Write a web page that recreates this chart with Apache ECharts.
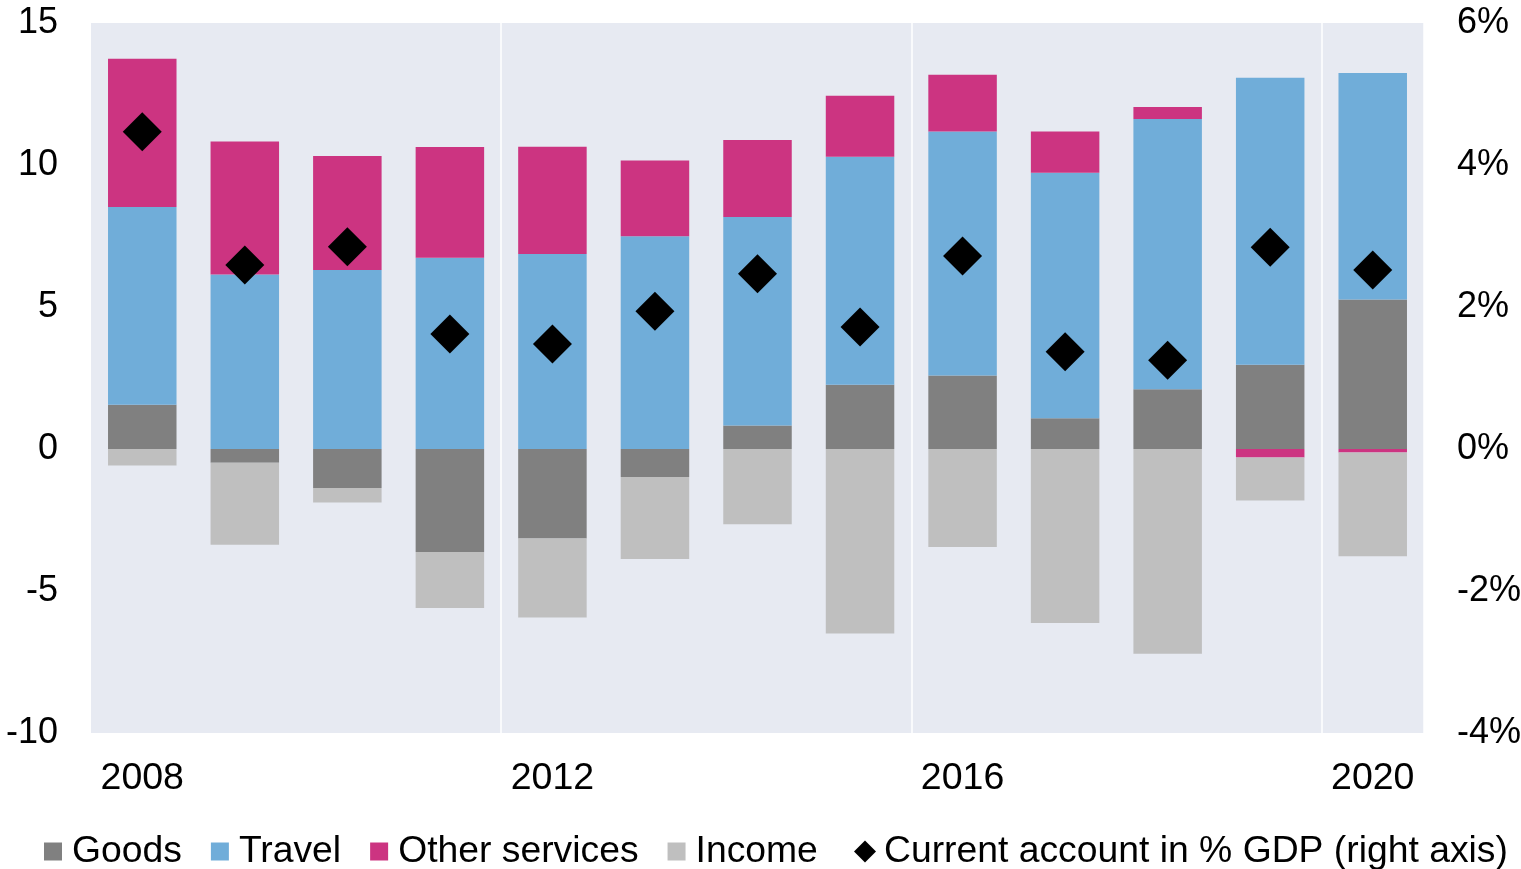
<!DOCTYPE html>
<html>
<head>
<meta charset="utf-8">
<script src="https://cdn.jsdelivr.net/npm/echarts@6/dist/echarts.min.js"></script>
<style>
html,body{margin:0;padding:0;background:#fff;}
#chart{width:1521px;height:869px;}
</style>
</head>
<body>
<div id="chart"></div>
<script>
var years = ['2008','2009','2010','2011','2012','2013','2014','2015','2016','2017','2018','2019','2020'];
var goods = [1.56, -0.48, -1.37, -3.63, -3.15, -0.99, 0.83, 2.26, 2.59, 1.08, 2.10, 2.97, 5.26];
var travel = [6.96, 6.14, 6.30, 6.73, 6.87, 7.49, 7.34, 8.03, 8.59, 8.65, 9.52, 10.10, 7.98];
var otherServices = [5.22, 4.69, 4.02, 3.90, 3.77, 2.67, 2.71, 2.15, 2.00, 1.45, 0.42, -0.30, -0.12];
var income = [-0.58, -2.89, -0.51, -1.97, -2.78, -2.88, -2.65, -6.50, -3.45, -6.13, -7.21, -1.51, -3.66];
var currentAccount = [4.47, 2.59, 2.85, 1.62, 1.48, 1.94, 2.47, 1.72, 2.72, 1.37, 1.25, 2.84, 2.52];

var FONT = "'Liberation Sans', Arial, sans-serif";
var chart = echarts.init(document.getElementById('chart'), null, {renderer: 'canvas'});

function barSeries(name, data, color) {
  return {
    name: name, type: 'bar', stack: 'total', data: data,
    barWidth: 68.5,
    itemStyle: {color: color, opacity: 1},
    emphasis: {disabled: true}
  };
}

chart.setOption({
  animation: false,
  grid: {left: 91, right: 97, top: 23, bottom: 136, show: true, backgroundColor: '#E7EAF2', borderWidth: 0,
         containLabel: false, outerBoundsMode: 'none'},
  legend: [
    {
      left: 39, top: 828,
      itemWidth: 18, itemHeight: 18, itemGap: 29,
      textStyle: {fontFamily: FONT, fontSize: 37.3, color: '#000', padding: [0,0,0,5]},
      data: [
        {name: 'Goods', icon: 'rect'},
        {name: 'Travel', icon: 'rect'},
        {name: 'Other services', icon: 'rect'},
        {name: 'Income', icon: 'rect'}
      ]
    },
    {
      left: 849, top: 828,
      itemWidth: 22, itemHeight: 22,
      textStyle: {fontFamily: FONT, fontSize: 37.3, color: '#000', padding: [0,0,0,3]},
      data: [{name: 'Current account in % GDP (right axis)', icon: 'diamond'}]
    }
  ],
  xAxis: {
    type: 'category', data: years, boundaryGap: true,
    axisLine: {show: false}, axisTick: {show: false},
    axisLabel: {interval: 3, fontFamily: FONT, fontSize: 37.5, color: '#000', margin: 27},
    splitLine: {show: true, interval: function(i){ return i === 4 || i === 8 || i === 12; }, lineStyle: {color: '#ffffff', width: 1.5}}
  },
  yAxis: [
    {type: 'value', min: -10, max: 15, interval: 5,
     axisLine: {show: false}, axisTick: {show: false}, splitLine: {show: false},
     axisLabel: {fontFamily: FONT, fontSize: 36, color: '#000', margin: 33}},
    {type: 'value', min: -4, max: 6, interval: 2, position: 'right',
     axisLine: {show: false}, axisTick: {show: false}, splitLine: {show: false},
     axisLabel: {fontFamily: FONT, fontSize: 36, color: '#000', margin: 33, formatter: '{value}%'}}
  ],
  series: [
    barSeries('Goods', goods, '#808080'),
    barSeries('Travel', travel, '#70ADD9'),
    barSeries('Other services', otherServices, '#CC3481'),
    barSeries('Income', income, '#BFBFBF'),
    {name: 'Current account in % GDP (right axis)', type: 'scatter', yAxisIndex: 1,
     data: currentAccount, symbol: 'diamond', symbolSize: 39,
     itemStyle: {color: '#000000', opacity: 1}, emphasis: {disabled: true}, z: 5}
  ]
});
</script>
</body>
</html>
